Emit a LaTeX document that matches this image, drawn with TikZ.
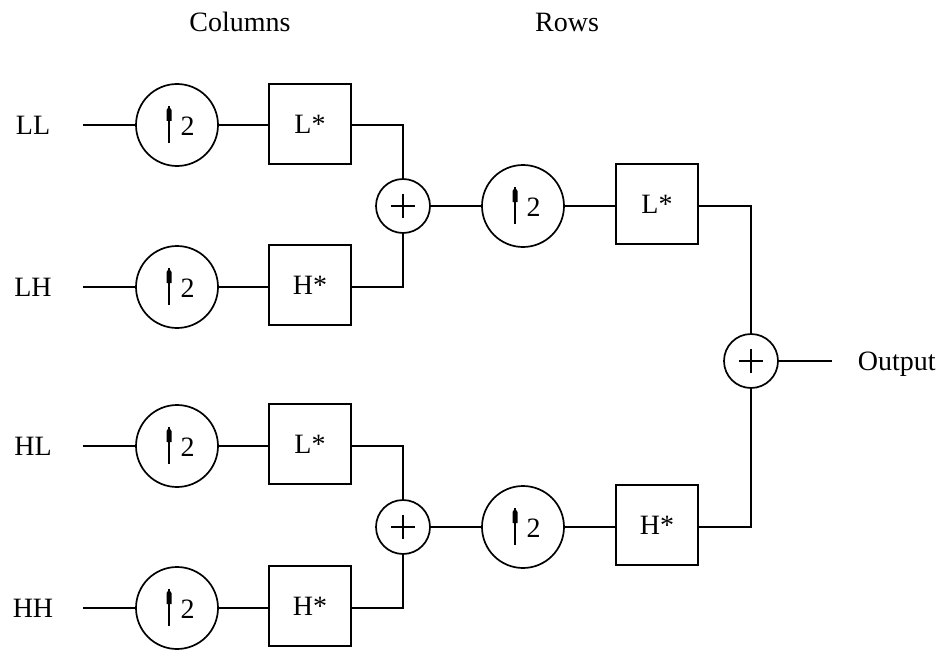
\documentclass[tikz,border=0pt]{standalone}
\usepackage{fontspec}
\setmainfont{Liberation Serif}
\begin{document}
\begin{tikzpicture}[x=1pt,y=-1pt,line width=1.7pt,
  every node/.style={font=\fontsize{28}{32}\selectfont},
  lbl/.style={inner sep=0pt},
  upbox/.style={circle,draw,minimum size=82pt,inner sep=0pt,
    path picture={
      \draw[line width=1.6pt] ([xshift=-8pt,yshift=-18pt]path picture bounding box.center) -- ++(0pt,37pt);
      \fill ([xshift=-10.5pt,yshift=4pt]path picture bounding box.center) -- ++(0pt,11pt) -- ++(2.5pt,3.5pt) -- ++(2.5pt,-3.5pt) -- ++(0pt,-11pt) -- cycle;
      \node[inner sep=0pt] at ([xshift=10.5pt,yshift=-1pt]path picture bounding box.center) {2};
    }},
  addnode/.style={circle,draw,minimum size=54pt,inner sep=0pt,
    path picture={
      \draw[line width=1.6pt] ([xshift=-12pt]path picture bounding box.center) -- ++(24pt,0pt);
      \draw[line width=1.6pt] ([yshift=-12pt]path picture bounding box.center) -- ++(0pt,24pt);
    }},
  filt/.style={draw,minimum width=82pt,minimum height=80pt,inner sep=0pt}]
\useasboundingbox (0,0) rectangle (942,650);

\node[lbl] (cols) at (240,22) {Columns};
\node[lbl] (rows) at (567,22) {Rows};

% inputs
\node[lbl] (tLL) at (33,125) {LL};
\node[lbl] (tLH) at (33,287) {LH};
\node[lbl] (tHL) at (33,446) {HL};
\node[lbl] (tHH) at (33,608) {HH};
\coordinate (s1) at (83,125);
\coordinate (s2) at (83,287);
\coordinate (s3) at (83,446);
\coordinate (s4) at (83,608);

% column stage
\node[upbox] (u1) at (177,125) {};
\node[upbox] (u2) at (177,287) {};
\node[upbox] (u3) at (177,446) {};
\node[upbox] (u4) at (177,608) {};
\node[filt] (f1) at (310,124) {L*};
\node[filt] (f2) at (310,285) {H*};
\node[filt] (f3) at (310,444) {L*};
\node[filt] (f4) at (310,606) {H*};
\node[addnode] (a1) at (403,206) {};
\node[addnode] (a2) at (403,527) {};

% row stage
\node[upbox] (u5) at (523,206) {};
\node[upbox] (u6) at (523,527) {};
\node[filt] (f5) at (657,204) {L*};
\node[filt] (f6) at (657,525) {H*};
\node[addnode] (a3) at (751,361) {};
\coordinate (o) at (832,361);
\node[lbl,anchor=west] (tout) at (857,364) {Output};

% connectors
\draw (s1) -- (u1) -- (f1.west |- u1);
\draw (s2) -- (u2) -- (f2.west |- u2);
\draw (s3) -- (u3) -- (f3.west |- u3);
\draw (s4) -- (u4) -- (f4.west |- u4);
\draw (f1.east |- u1) -| (a1.north);
\draw (f2.east |- u2) -| (a1.south);
\draw (f3.east |- u3) -| (a2.north);
\draw (f4.east |- u4) -| (a2.south);
\draw (a1) -- (u5) -- (f5.west |- u5);
\draw (a2) -- (u6) -- (f6.west |- u6);
\draw (f5.east |- u5) -| (a3.north);
\draw (f6.east |- u6) -| (a3.south);
\draw (a3) -- (o);
\end{tikzpicture}
\end{document}
